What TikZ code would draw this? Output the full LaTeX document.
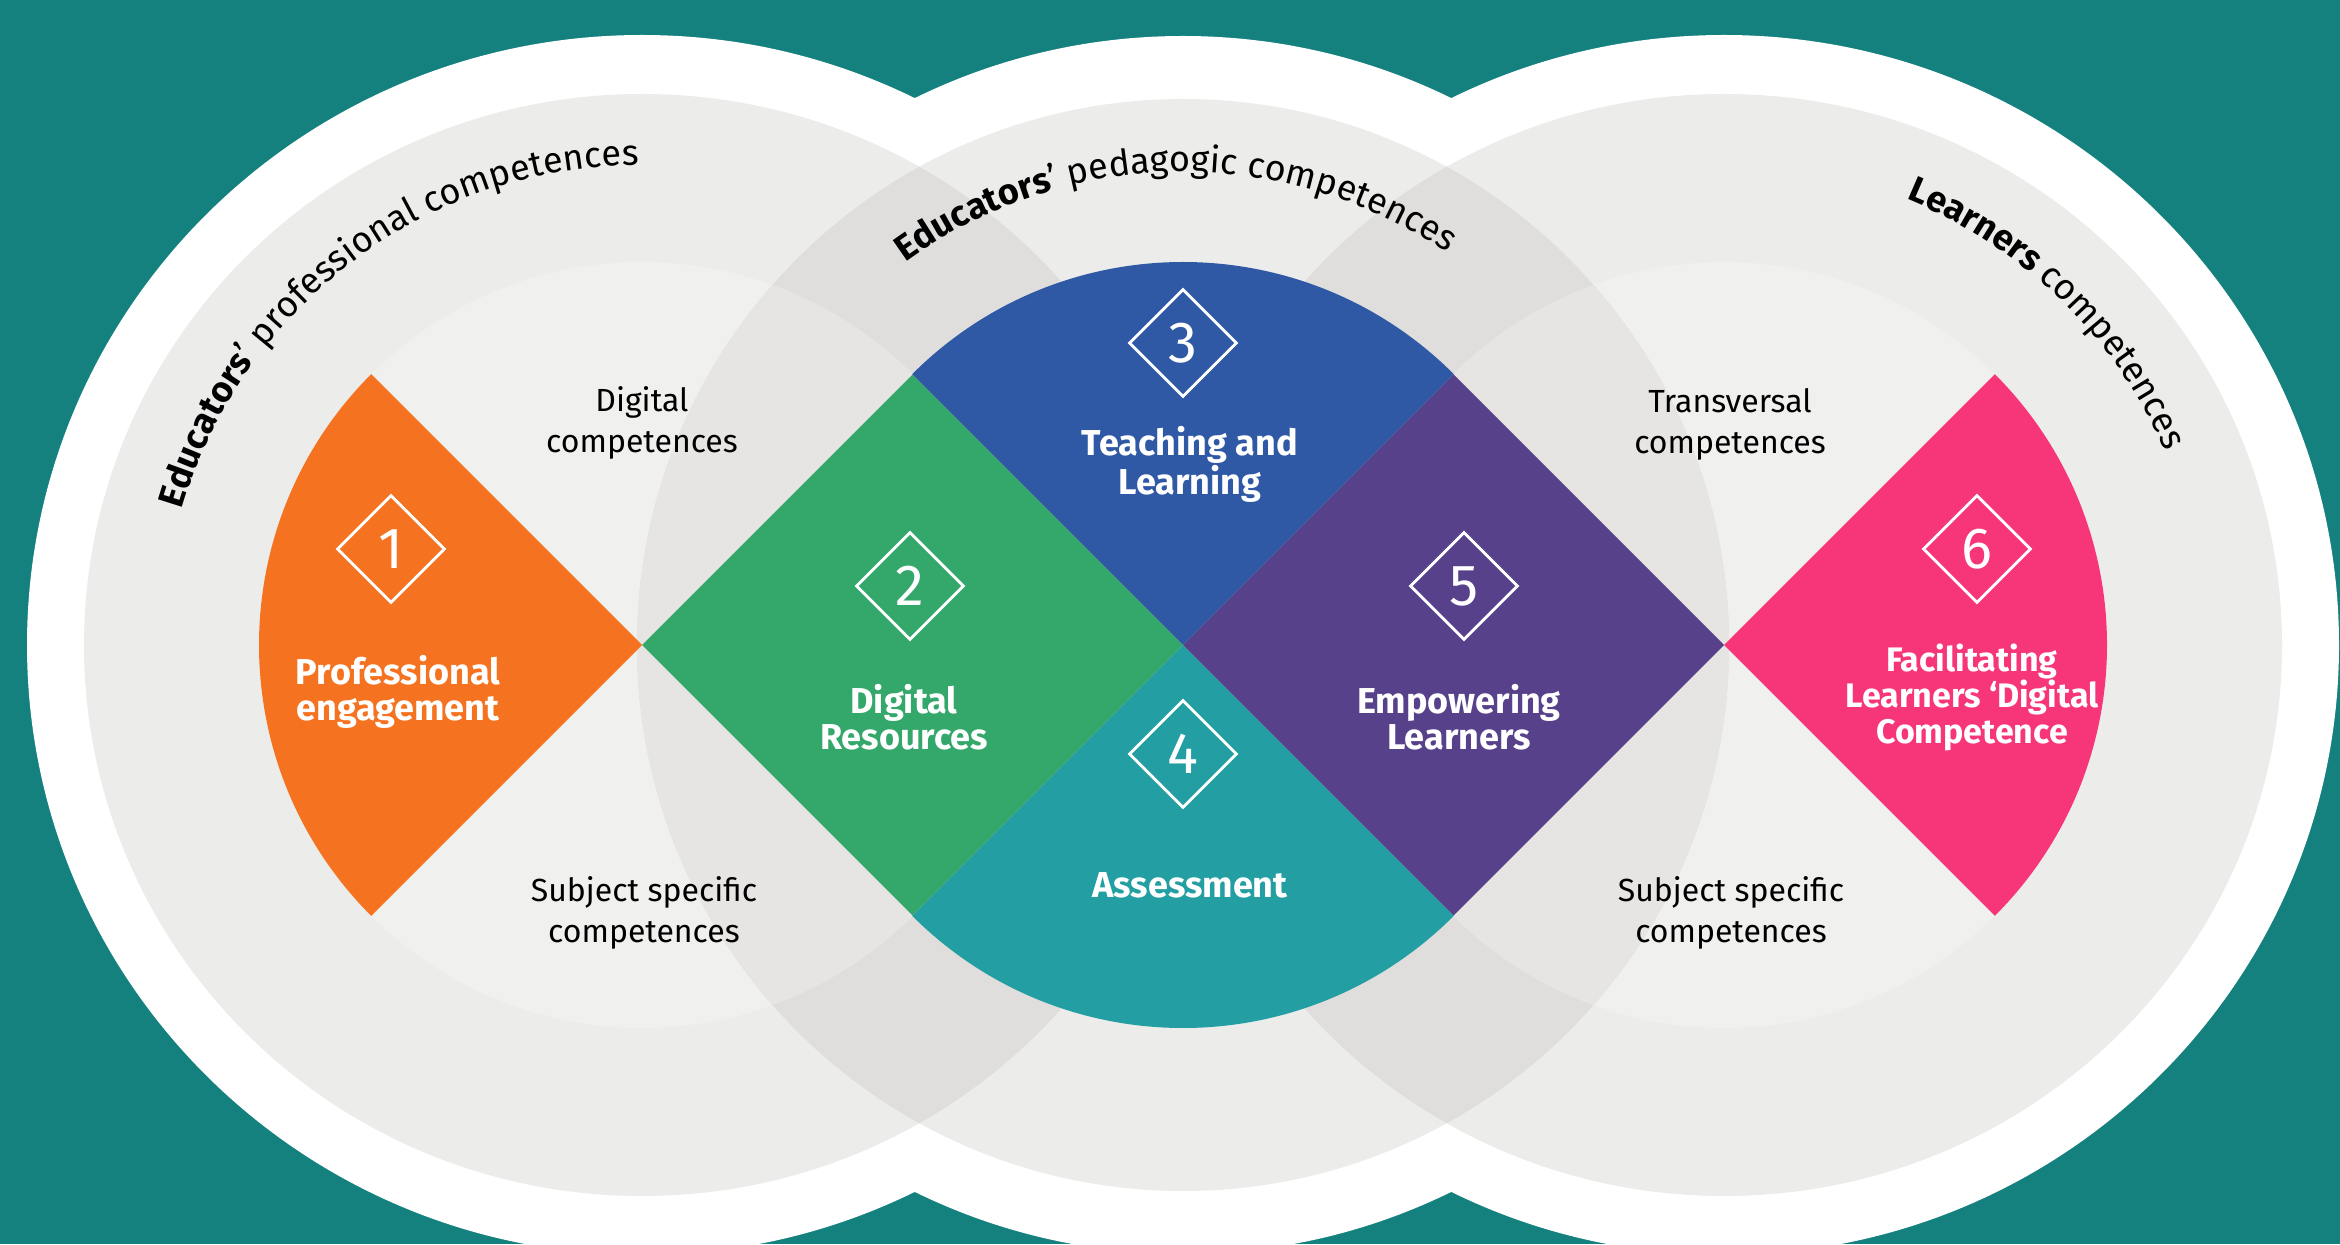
\documentclass[tikz,border=0pt]{standalone}
\usepackage{fontspec}
\setmainfont{Fira Sans}
\usetikzlibrary{shapes.geometric,decorations.text}
\definecolor{bgteal}{RGB}{20,129,127}
\definecolor{ringgrey}{RGB}{236,236,234}
\definecolor{discgrey}{RGB}{240,240,239}
\definecolor{ovgrey}{RGB}{223,222,220}
\definecolor{discov}{RGB}{230,229,227}
\definecolor{corange}{RGB}{245,115,32}
\definecolor{cgreen}{RGB}{52,168,106}
\definecolor{cblue}{RGB}{47,89,165}
\definecolor{cteal}{RGB}{35,159,163}
\definecolor{cpurple}{RGB}{87,65,138}
\definecolor{cpink}{RGB}{247,54,122}
\newcommand{\arcfont}{\fontsize{18}{21}\selectfont}
\tikzset{
 badge/.style={shape=diamond, draw=white, line width=1.4pt, minimum width=54pt, minimum height=54pt, inner sep=0pt, text=white, font=\fontsize{29}{29}\selectfont},
 whitelab/.style={text=white, align=center, font=\fontsize{18}{18}\selectfont\bfseries, inner sep=0pt},
 greylab/.style={text=black, align=center, font=\fontsize{16}{20.5}\selectfont, inner sep=0pt},
 outerwhite/.style={fill=white},
 sidering/.style={fill=ringgrey}
}
\begin{document}
\begin{tikzpicture}[x=0.5pt,y=0.5pt]
\useasboundingbox (0,0) rectangle (2340,1244);
\clip (0,0) rectangle (2340,1244);
\fill[bgteal] (0,0) rectangle (2340,1244);
\coordinate (L) at (642,599);
\coordinate (M) at (1183,599);
\coordinate (R) at (1724,599);
% white outer circles
\fill[outerwhite] (L) circle[x radius=615, y radius=610];
\fill[outerwhite] (R) circle[x radius=615, y radius=610];
\fill[outerwhite] (M) circle[radius=609];
% grey rings
\fill[sidering] (L) circle[x radius=558, y radius=551];
\fill[sidering] (R) circle[x radius=558, y radius=551];
\fill[ringgrey] (M) circle[radius=546];
\fill[discgrey] (L) circle[radius=383];
\fill[discgrey] (R) circle[radius=383];
\begin{scope}
 \clip (M) circle[radius=546];
 \fill[ovgrey] (L) circle[x radius=558, y radius=551];
 \fill[ovgrey] (R) circle[x radius=558, y radius=551];
 \fill[discov] (L) circle[radius=383];
 \fill[discov] (R) circle[radius=383];
\end{scope}
% coloured areas
\fill[corange] (L) -- ++(135:383) arc[start angle=135,end angle=225,radius=383] -- cycle;
\fill[cgreen] (L) -- (912.5,869.5) -- (M) -- (912.5,328.5) -- cycle;
\fill[cblue] (M) -- ++(45:383) arc[start angle=45,end angle=135,radius=383] -- cycle;
\fill[cteal] (M) -- ++(225:383) arc[start angle=225,end angle=315,radius=383] -- cycle;
\fill[cpurple] (M) -- (1453.5,869.5) -- (R) -- (1453.5,328.5) -- cycle;
\fill[cpink] (R) -- ++(-45:383) arc[start angle=-45,end angle=45,radius=383] -- cycle;
% titles along arcs
\path[decorate, decoration={text along path, text align=center, text={|\arcfont\bfseries|Educators|\arcfont|’ professional competences}}] (L) ++(177:480) arc[start angle=177, end angle=77, radius=480];
\path[decorate, decoration={text along path, text align=center, text={|\arcfont\bfseries|Educators|\arcfont|’ pedagogic competences}}] (M) ++(151:473) arc[start angle=151, end angle=31, radius=473];
\path[decorate, decoration={text along path, text align=center, text={|\arcfont\bfseries|Learners |\arcfont|competences}}] (R) ++(105.7:482) arc[start angle=105.7, end angle=-14.3, radius=482];
% badges
\node[badge] (b1) at (391,695) {1};
\node[badge] (b2) at (910,658) {2};
\node[badge] (b3) at (1183,901) {3};
\node[badge] (b4) at (1183,490) {4};
\node[badge] (b5) at (1464,658) {5};
\node[badge] (b6) at (1977,695) {6};
% labels
\node[whitelab] (t1) at (398,552) {Professional\\engagement};
\node[whitelab] (t2) at (904,527) {Digital\\Resources};
\node[whitelab] (t3) at (1190,780) {Teaching and\\Learning};
\node[whitelab] (t4) at (1190,359) {Assessment};
\node[whitelab] (t5) at (1459,527) {Empowering\\Learners};
\node[whitelab, font=\fontsize{17}{18}\selectfont\bfseries] (t6) at (1972,547) {Facilitating\\Learners ‘Digital\\Competence};
\node[greylab] (g1) at (642,821) {Digital\\competences};
\node[greylab] (g2) at (644,331) {Subject specific\\competences};
\node[greylab] (g3) at (1730,820) {Transversal\\competences};
\node[greylab] (g4) at (1731,331) {Subject specific\\competences};
\end{tikzpicture}
\end{document}
